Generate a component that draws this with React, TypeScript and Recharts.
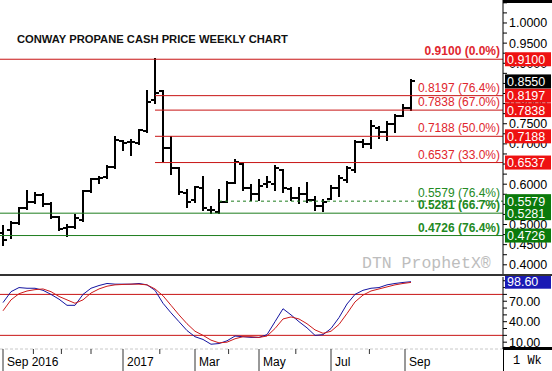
import React from "react";
import { ComposedChart, Bar, Line, XAxis, YAxis, ReferenceLine } from "recharts";

const FONT = '"Liberation Sans", Arial, sans-serif';

// weekly OHLC, Conway propane cash ($/gal)
const opens = [
  0.478, 0.486, 0.503, 0.54, 0.557, 0.573, 0.55, 0.519, 0.491, 0.495, 0.511, 0.584, 0.612,
  0.617, 0.643, 0.708, 0.705, 0.702, 0.732, 0.809, 0.83, 0.689, 0.639, 0.577, 0.56, 0.59,
  0.536, 0.532, 0.557, 0.604, 0.65, 0.59, 0.575, 0.6, 0.6, 0.635, 0.588, 0.565, 0.575, 0.56,
  0.545, 0.563, 0.59, 0.61, 0.635, 0.704, 0.7, 0.74, 0.73, 0.75, 0.77, 0.79,
];
const highs = [
  0.496, 0.505, 0.54, 0.584, 0.579, 0.576, 0.553, 0.519, 0.499, 0.524, 0.584, 0.612, 0.617,
  0.645, 0.716, 0.708, 0.71, 0.734, 0.83, 0.91, 0.83, 0.717, 0.639, 0.586, 0.594, 0.619,
  0.543, 0.586, 0.606, 0.66, 0.652, 0.598, 0.61, 0.619, 0.645, 0.635, 0.59, 0.59, 0.602, 0.567,
  0.561, 0.596, 0.62, 0.642, 0.706, 0.71, 0.757, 0.743, 0.755, 0.772, 0.797, 0.859,
];
const lows = [
  0.449, 0.466, 0.501, 0.538, 0.553, 0.546, 0.515, 0.486, 0.471, 0.491, 0.509, 0.581, 0.602,
  0.615, 0.639, 0.685, 0.672, 0.7, 0.73, 0.801, 0.658, 0.625, 0.575, 0.544, 0.557, 0.536,
  0.528, 0.528, 0.557, 0.602, 0.586, 0.561, 0.561, 0.594, 0.586, 0.581, 0.561, 0.553, 0.557, 0.536,
  0.534, 0.563, 0.571, 0.606, 0.631, 0.693, 0.689, 0.714, 0.71, 0.73, 0.768, 0.784,
];
const closes = [
  0.462, 0.504, 0.54, 0.557, 0.573, 0.55, 0.518, 0.488, 0.493, 0.515, 0.584, 0.612, 0.615,
  0.643, 0.71, 0.701, 0.705, 0.734, 0.805, 0.826, 0.689, 0.639, 0.58, 0.555, 0.594, 0.54,
  0.535, 0.557, 0.604, 0.655, 0.59, 0.575, 0.596, 0.605, 0.641, 0.59, 0.565, 0.575, 0.56, 0.545,
  0.555, 0.59, 0.615, 0.64, 0.704, 0.7, 0.745, 0.73, 0.75, 0.77, 0.79, 0.855,
];

// slow stochastics (%K blue, %D red)
const stochK = [
  68, 84, 90, 89, 89, 86, 80, 73, 64, 64, 80, 89, 93, 96, 95, 95, 95, 96, 94, 86, 67, 53, 40,
  27, 18, 14, 7, 8, 12, 19, 18, 17, 17, 21, 40, 59, 50, 40, 31, 20, 21, 30, 46, 66, 80, 86,
  89, 90, 94, 96, 97.5, 98.6,
];
const stochD = [
  56, 72, 81, 85, 87, 88, 84, 77, 72, 67, 72, 82, 88, 92, 94, 94.6, 95, 95, 94, 88, 78, 64,
  50, 37, 26, 20, 13, 9, 10, 15, 18, 18, 17, 19, 30, 44, 47, 44, 37, 28, 23, 26, 36, 52, 69,
  79, 85, 88, 91, 94, 96, 97.6,
];

// month ticks, in bar-index units
const monthPos = [0, 3.8, 7.3, 11, 15, 19.6, 24, 28.2, 32, 36.6, 41, 45.8, 50.25];
const monthLabels = ["Sep 2016", "", "", "", "2017", "", "Mar", "", "May", "", "Jul", "", "Sep"];

// retracement levels
const fibValues = [0.91, 0.8197, 0.7838, 0.7188, 0.6537, 0.5579, 0.5281, 0.4726];
const fibTexts = [
  "0.9100 (0.0%)", "0.8197 (76.4%)", "0.7838 (67.0%)", "0.7188 (50.0%)",
  "0.6537 (33.0%)", "0.5579 (76.4%)", "0.5281 (66.7%)", "0.4726 (76.4%)",
];
const fibStart = [null, 19, 19, 19, 19, 27, null, null];

const priceTicks = [
  0.375, 0.4, 0.425, 0.45, 0.475, 0.5, 0.525, 0.55, 0.575, 0.6, 0.625, 0.65, 0.675, 0.7,
  0.725, 0.75, 0.775, 0.8, 0.825, 0.85, 0.875, 0.9, 0.925, 0.95, 0.975, 1.0, 1.025, 1.05,
];
const stochTicks = [0, 10, 20, 30, 40, 50, 60, 70, 80, 90, 100];

const X_DOMAIN = [-0.375, 62.5];
const PRICE_DOMAIN = [0.3747, 1.057];
const STOCH_DOMAIN = [0, 105.5];

const rows = opens.map((o, i) => ({
  i,
  range: [lows[i], highs[i]],
  open: o,
  close: closes[i],
  k: stochK[i],
  d: stochD[i],
}));

const RED_LINE = "#c81414";
const RED_TEXT = "#e0262e";
const RED_BOX = "#ee1111";
const GREEN_LINE = "#1e7d1e";
const GREEN_TEXT = "#238a23";
const GREEN_BOX = "#0b7a0b";

function OhlcShape(props: any) {
  const { x, y, width, height, payload } = props;
  if (x == null || !payload) return null;
  const [lo, hi] = payload.range;
  const top = Math.min(y, y + height);
  const h = Math.abs(height);
  const cx = Math.round(x + width / 2);
  const yOf = (v: number) => top + (hi - lo ? ((hi - v) / (hi - lo)) * h : 0);
  return (
    <g stroke="#000" strokeWidth={2} shapeRendering="crispEdges">
      <line x1={cx} x2={cx} y1={top - 1} y2={top + h + 1} />
      <line x1={cx - 4} x2={cx} y1={yOf(payload.open)} y2={yOf(payload.open)} />
      <line x1={cx} x2={cx + 4} y1={yOf(payload.close)} y2={yOf(payload.close)} />
    </g>
  );
}

function LevelLabel(props: any) {
  const { viewBox, text, valueText, color, bold, box } = props;
  if (!viewBox) return null;
  const right = viewBox.x + viewBox.width;
  const y = viewBox.y;
  return (
    <g>
      {text ? (
        <text x={right - 3} y={y - 4} textAnchor="end" fill={color} fontSize={12}
          fontWeight={bold ? "bold" : "normal"} fontFamily={FONT}>{text}</text>
      ) : null}
      <rect x={right + 2} y={y - 7} width={46} height={14} fill={box} />
      <text x={right + 4} y={y + 4.5} fill="#fff" fontSize={12.5} fontFamily={FONT}>{valueText}</text>
    </g>
  );
}

function MonthTick(props: any) {
  const { x, y, payload } = props;
  const idx = monthPos.indexOf(payload.value);
  const label = monthLabels[idx] || "";
  const major = label !== "";
  return (
    <g>
      <line x1={x} x2={x} y1={y} y2={y + (major ? 22 : 5)} stroke="#333" />
      {major ? (
        <text x={x + 4} y={y + 17} fontSize={12} fill="#000" fontFamily={FONT}>{label}</text>
      ) : null}
    </g>
  );
}

const priceFmt = (v: number) => (Math.round(v * 1000) % 50 === 0 && v < 1.04 ? v.toFixed(4) : "");
const stochFmt = (v: number) => ([10, 40, 70, 100].includes(v) ? v.toFixed(2) : "");

const abs = (left: number, top: number): React.CSSProperties => ({ position: "absolute", left, top });

export default function App() {
  const last = closes[closes.length - 1];
  const lastK = stochK[stochK.length - 1];
  return (
    <div style={{ position: "absolute", left: 0, top: 0, width: 552, height: 371, background: "#fff", overflow: "hidden" }}>
      {/* price panel */}
      <div style={abs(0, 0)}>
        <ComposedChart width={552} height={275} data={rows} margin={{ top: 0, right: 0, left: 0, bottom: 0 }}>
          <XAxis dataKey="i" type="number" domain={X_DOMAIN} hide allowDataOverflow />
          <YAxis orientation="right" width={49} domain={PRICE_DOMAIN} allowDataOverflow ticks={priceTicks}
            interval={0} tickFormatter={priceFmt} tickSize={4} tickMargin={2}
            axisLine={{ stroke: "#000" }} tickLine={{ stroke: "#000" }}
            tick={{ fontSize: 12.5, fill: "#000", fontFamily: FONT }} />
          {fibValues.map((v, n) => {
            const stroke = n >= 5 ? GREEN_LINE : RED_LINE;
            const dash = n === 5 ? "3 3" : undefined;
            const start = fibStart[n];
            return start == null ? (
              <ReferenceLine key={n} y={v} stroke={stroke} strokeDasharray={dash} />
            ) : (
              <ReferenceLine key={n} segment={[{ x: start, y: v }, { x: X_DOMAIN[1], y: v }]}
                stroke={stroke} strokeDasharray={dash} />
            );
          })}
          <Bar dataKey="range" barSize={8} shape={<OhlcShape />} isAnimationActive={false} />
        </ComposedChart>
      </div>
      {/* price labels + axis boxes, on top of the axis text */}
      <div style={abs(0, 0)}>
        <ComposedChart width={552} height={275} data={rows} margin={{ top: 0, right: 49, left: 0, bottom: 0 }}>
          <XAxis dataKey="i" type="number" domain={X_DOMAIN} hide allowDataOverflow />
          <YAxis domain={PRICE_DOMAIN} allowDataOverflow hide />
          {fibValues.map((v, n) => {
            const green = n >= 5;
            return (
              <ReferenceLine key={n} y={v} stroke="none"
                label={
                  <LevelLabel text={fibTexts[n]} valueText={v.toFixed(4)} color={green ? GREEN_TEXT : RED_TEXT}
                    bold={n === 0 || n === 6 || n === 7} box={green ? GREEN_BOX : RED_BOX} />
                } />
            );
          })}
          <ReferenceLine y={last} stroke="none" label={<LevelLabel valueText={last.toFixed(4)} box="#000" />} />
        </ComposedChart>
      </div>
      {/* stochastic panel */}
      <div style={abs(0, 275)}>
        <ComposedChart width={552} height={96} data={rows} margin={{ top: 2, right: 0, left: 0, bottom: 0 }}>
          <XAxis dataKey="i" type="number" domain={X_DOMAIN} allowDataOverflow ticks={monthPos} interval={0}
            height={22} axisLine={false} tickLine={false} tickSize={0} tickMargin={0} tick={<MonthTick />} />
          <YAxis orientation="right" width={49} domain={STOCH_DOMAIN} allowDataOverflow ticks={stochTicks}
            interval={0} tickFormatter={stochFmt} tickSize={4} tickMargin={2}
            axisLine={{ stroke: "#000" }} tickLine={{ stroke: "#000" }}
            tick={{ fontSize: 12.5, fill: "#000", fontFamily: FONT }} />
          <ReferenceLine y={80} stroke={RED_LINE} />
          <ReferenceLine y={20} stroke={RED_LINE} />
          <ReferenceLine y={0} stroke="#c8c8c8" strokeDasharray="3 2" />
          <Line type="linear" dataKey="k" stroke="#1414a0" strokeWidth={1} dot={false} isAnimationActive={false} />
          <Line type="linear" dataKey="d" stroke="#cc1a1a" strokeWidth={1} dot={false} isAnimationActive={false} />
        </ComposedChart>
      </div>
      <div style={abs(0, 275)}>
        <ComposedChart width={552} height={96} data={rows} margin={{ top: 2, right: 49, left: 0, bottom: 22 }}>
          <XAxis dataKey="i" type="number" domain={X_DOMAIN} hide allowDataOverflow />
          <YAxis domain={STOCH_DOMAIN} allowDataOverflow hide />
          <ReferenceLine y={lastK} stroke="none" label={<LevelLabel valueText={lastK.toFixed(2)} box="#1a1ab4" />} />
        </ComposedChart>
      </div>
      <div style={{ ...abs(503, 0), width: 49, height: 3, background: "#000" }} />
      <div style={{ ...abs(0, 274), width: 552, height: 2, background: "#333" }} />
      <div style={{ ...abs(503, 347), width: 49, height: 3, background: "#000" }} />
      <div style={{ ...abs(503, 349), width: 1, height: 22, background: "#000" }} />
      <div style={{ ...abs(17, 33), fontFamily: FONT, fontSize: 11.2, fontWeight: "bold", color: "#111", whiteSpace: "nowrap" }}>
        CONWAY PROPANE CASH PRICE WEEKLY CHART
      </div>
      <div style={{ ...abs(362, 254), fontFamily: '"Liberation Mono", monospace', fontSize: 16.5, color: "#bdbdbd", whiteSpace: "nowrap" }}>
        DTN ProphetX®
      </div>
      <div style={{ ...abs(513, 354), fontFamily: '"Liberation Mono", monospace', fontSize: 12, color: "#000", whiteSpace: "nowrap" }}>
        1 Wk
      </div>
    </div>
  );
}
